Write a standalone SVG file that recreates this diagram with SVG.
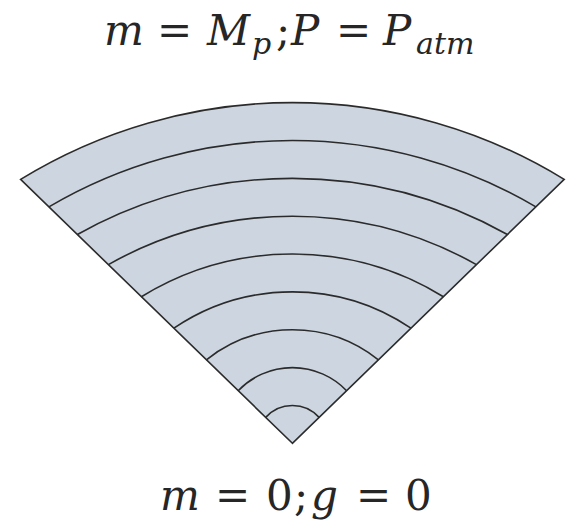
<svg xmlns="http://www.w3.org/2000/svg" width="572" height="521" viewBox="0 0 572 521">
<style>
.wedge{fill:#CDD6E0;stroke:#2B2B2B;stroke-width:1.6;stroke-linejoin:miter}
.arc{fill:none;stroke:#2B2B2B;stroke-width:1.6}
.eq{font-family:"DejaVu Serif","Liberation Serif",serif;font-size:42px;fill:#262626}
.it{font-style:italic}
.sub{font-size:30px}
</style>
<rect width="572" height="521" fill="#FFFFFF"/>
<g id="wedge">
<path class="wedge" d="M292.4 443.3 L20.6 179.4 A519.6 519.6 0 0 1 564.2 179.4 Z"/>
</g>
<g id="arcs">
<path class="arc" d="M265.7 417.4 A35.8 35.8 0 0 1 319.1 417.4"/>
<path class="arc" d="M238.2 390.7 A75.1 75.1 0 0 1 346.6 390.7"/>
<path class="arc" d="M206.4 359.8 A138.1 138.1 0 0 1 378.4 359.8"/>
<path class="arc" d="M173.9 328.2 A211.6 211.6 0 0 1 410.9 328.2"/>
<path class="arc" d="M141.4 296.7 A288.6 288.6 0 0 1 443.4 296.7"/>
<path class="arc" d="M108.4 264.6 A374 374 0 0 1 476.4 264.6"/>
<path class="arc" d="M77.4 234.5 A439.7 439.7 0 0 1 507.4 234.5"/>
<path class="arc" d="M48.9 206.9 A479.7 479.7 0 0 1 535.9 206.9"/>
</g>
<g id="label-top">
<text class="eq" y="45"><tspan x="104" class="it">m</tspan> <tspan x="157">=</tspan> <tspan x="207" class="it">M</tspan><tspan x="252" dy="9" class="it sub">p</tspan><tspan x="276" dy="-9">;</tspan> <tspan x="291" class="it">P</tspan> <tspan x="336">=</tspan> <tspan x="383" class="it">P</tspan><tspan x="416" dy="9" class="it sub">atm</tspan></text>
</g>
<g id="label-bottom">
<text class="eq" y="510"><tspan x="160" class="it">m</tspan> <tspan x="215">=</tspan> <tspan x="266">0</tspan><tspan x="294">;</tspan> <tspan x="311" class="it">g</tspan> <tspan x="356">=</tspan> <tspan x="405">0</tspan></text>
</g>
</svg>
